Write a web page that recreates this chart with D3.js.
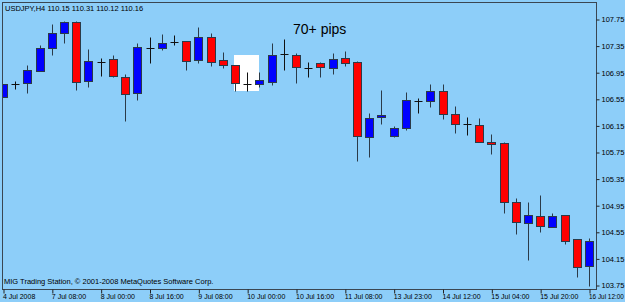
<!DOCTYPE html>
<html>
<head>
<meta charset="utf-8">
<script src="https://cdn.jsdelivr.net/npm/d3@7"></script>
<style>
  html, body { margin: 0; padding: 0; background: #8DCEF9; }
  svg { display: block; }
  text { font-family: "Liberation Sans", Arial, sans-serif; fill: #000; }
</style>
</head>
<body>
<svg id="chart" width="625" height="302"></svg>
<script>
// USDJPY H4, one value per bar
const opens = [106.58, 106.76, 106.79, 106.97, 107.315, 107.54, 107.705, 106.82, 107.10, 107.15,
  106.88, 106.64, 107.32, 107.315, 107.40, 107.42, 107.13, 107.48, 107.13, 107.06,
  106.76, 106.77, 106.80, 107.22, 107.21, 107.03, 107.09, 107.01, 107.16, 107.10,
  105.98, 106.28, 105.99, 106.11, 106.52, 106.52, 106.67, 106.32, 106.17, 106.16,
  105.90, 105.89, 105.00, 104.68, 104.79, 104.62, 104.80, 104.44, 104.04];
const highs = [106.78, 106.82, 107.06, 107.36, 107.675, 107.72, 107.72, 107.30, 107.16, 107.21,
  106.92, 107.39, 107.48, 107.525, 107.51, 107.42, 107.63, 107.54, 107.25, 107.06,
  106.95, 106.95, 107.39, 107.45, 107.24, 107.10, 107.10, 107.24, 107.27, 107.12,
  106.34, 106.68, 106.14, 106.65, 106.56, 106.77, 106.77, 106.44, 106.28, 106.26,
  106.02, 105.90, 105.06, 105.00, 105.10, 104.83, 104.80, 104.44, 104.46];
const lows = [106.57, 106.70, 106.64, 106.97, 107.21, 107.39, 106.68, 106.73, 106.89, 106.88,
  106.22, 106.53, 107.09, 107.28, 107.36, 106.98, 107.09, 107.04, 107.01, 106.67,
  106.67, 106.73, 106.76, 106.98, 106.79, 106.88, 106.88, 106.92, 107.04, 105.61,
  105.67, 106.17, 105.98, 106.08, 106.34, 106.43, 106.25, 106.04, 106.01, 105.90,
  105.72, 104.83, 104.52, 104.13, 104.55, 104.62, 104.37, 103.87, 103.73];
const closes = [106.77, 106.77, 106.98, 107.315, 107.54, 107.705, 106.80, 107.12, 107.11, 106.89,
  106.62, 107.33, 107.31, 107.39, 107.41, 107.12, 107.48, 107.10, 107.06, 106.79,
  106.77, 106.83, 107.21, 107.23, 107.03, 107.02, 107.03, 107.15, 107.09, 105.99,
  106.26, 106.31, 106.11, 106.53, 106.52, 106.67, 106.32, 106.17, 106.17, 105.90,
  105.87, 105.00, 104.70, 104.80, 104.63, 104.79, 104.41, 104.02, 104.41];

const priceTicks = ['107.75', '107.35', '106.95', '106.55', '106.15', '105.75',
  '105.35', '104.95', '104.55', '104.15', '103.75'];
const timeTicks = ['4 Jul 2008', '7 Jul 08:00', '8 Jul 00:00', '8 Jul 16:00', '9 Jul 08:00',
  '10 Jul 00:00', '10 Jul 16:00', '11 Jul 08:00', '13 Jul 23:00', '14 Jul 12:00',
  '15 Jul 04:00', '15 Jul 20:00', '16 Jul 12:00'];
const barsPerTick = 4;

// highlighted zone (bar index range + price range)
const boxFrom = 19, boxTo = 21, boxHigh = 107.21, boxLow = 106.67;

const title = 'USDJPY,H4  110.15 110.31 110.12 110.16';
const note = '70+ pips';
const copyright = 'MIG Trading Station, \u00A9 2001-2008 MetaQuotes Software Corp.';

const bars = opens.map((open, i) => ({ i, open, high: highs[i], low: lows[i], close: closes[i] }));

const svg = d3.select('#chart');
const frame = { left: 2, top: 2, right: 596, bottom: 289 };
const wickColor = '#2B3A48';

const x = d3.scaleLinear().domain([0, bars.length - 1]).range([3, 589]);
const y = d3.scaleLinear()
  .domain([+priceTicks[priceTicks.length - 1], +priceTicks[0]])
  .range([285, 19]);

const px = v => Math.round(x(v)) + 0.5;
const py = v => Math.round(y(v)) + 0.5;

svg.append('clipPath').attr('id', 'plot')
  .append('rect')
  .attr('x', frame.left).attr('y', frame.top)
  .attr('width', frame.right - frame.left).attr('height', frame.bottom - frame.top);

const plot = svg.append('g').attr('clip-path', 'url(#plot)');

// white highlight box
plot.append('rect')
  .attr('x', Math.round(x(boxFrom)) - 1)
  .attr('y', Math.round(y(boxHigh)))
  .attr('width', Math.round(x(boxTo)) - Math.round(x(boxFrom)) + 1)
  .attr('height', Math.round(y(boxLow)) - Math.round(y(boxHigh)))
  .attr('fill', '#fff');

const isDoji = d => Math.abs(d.close - d.open) < 0.012;

const candle = plot.selectAll('.candle')
  .data(bars)
  .enter()
  .append('g')
  .attr('class', 'candle');

candle.append('line')
  .attr('x1', d => px(d.i)).attr('x2', d => px(d.i))
  .attr('y1', d => py(d.high)).attr('y2', d => py(d.low))
  .attr('stroke', d => isDoji(d) ? '#111' : wickColor)
  .attr('stroke-width', 1);

candle.filter(d => !isDoji(d))
  .append('rect')
  .attr('x', d => px(d.i) - 4)
  .attr('y', d => py(Math.max(d.open, d.close)))
  .attr('width', 8)
  .attr('height', d => Math.max(1, py(Math.min(d.open, d.close)) - py(Math.max(d.open, d.close))))
  .attr('fill', d => d.close > d.open ? '#0000FF' : '#FF0000')
  .attr('stroke', wickColor)
  .attr('stroke-width', 1);

candle.filter(isDoji)
  .append('line')
  .attr('x1', d => px(d.i) - 4).attr('x2', d => px(d.i) + 4)
  .attr('y1', d => py(d.close)).attr('y2', d => py(d.close))
  .attr('stroke', '#111');

// frame
svg.append('rect')
  .attr('x', frame.left + 0.5).attr('y', frame.top + 0.5)
  .attr('width', frame.right - frame.left).attr('height', frame.bottom - frame.top)
  .attr('fill', 'none')
  .attr('stroke', '#3A4652');

// axes
const yAxis = d3.axisRight(y)
  .tickValues(priceTicks.map(Number))
  .tickFormat((_, i) => priceTicks[i])
  .tickSize(3)
  .tickPadding(2);
svg.append('g')
  .attr('transform', `translate(${frame.right + 0.5}, 0.5)`)
  .call(yAxis)
  .call(g => g.select('.domain').remove())
  .call(g => g.selectAll('line').attr('stroke', '#222'))
  .call(g => g.selectAll('text').attr('font-size', 7.5).attr('fill', '#000')
    .attr('font-family', '"Liberation Sans", Arial, sans-serif'));

const xAxis = d3.axisBottom(x)
  .tickValues(timeTicks.map((_, i) => i * barsPerTick))
  .tickFormat((_, i) => timeTicks[i])
  .tickSize(4)
  .tickPadding(1);
svg.append('g')
  .attr('transform', `translate(0.5, ${frame.bottom + 0.5})`)
  .call(xAxis)
  .call(g => g.select('.domain').remove())
  .call(g => g.selectAll('line').attr('stroke', '#222'))
  .call(g => g.selectAll('text')
    .attr('font-size', (_, i) => i === timeTicks.length - 1 ? 6.4 : 7)
    .attr('fill', '#000')
    .attr('font-family', '"Liberation Sans", Arial, sans-serif')
    .attr('text-anchor', 'start').attr('dx', -1));

// texts
svg.append('text').attr('x', 5).attr('y', 11).attr('font-size', 7.5).text(title);
svg.append('text').attr('x', 293).attr('y', 34).attr('font-size', 14).text(note);
svg.append('text').attr('x', 4).attr('y', 284).attr('font-size', 7.5).text(copyright);
</script>
</body>
</html>
